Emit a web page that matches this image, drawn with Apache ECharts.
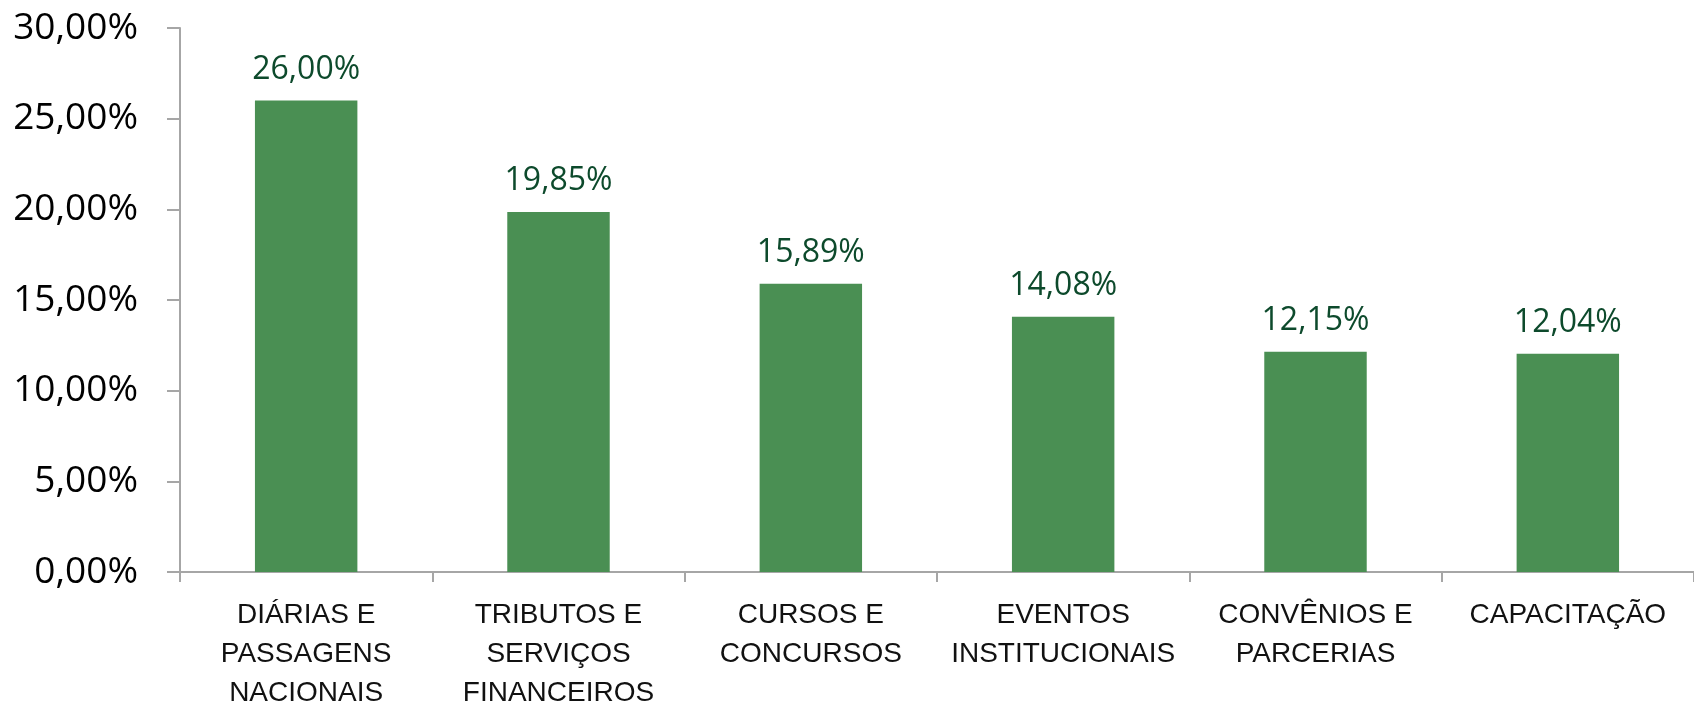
<!DOCTYPE html>
<html>
<head>
<meta charset="utf-8">
<script src="https://cdn.jsdelivr.net/npm/echarts@6/dist/echarts.min.js"></script>
<style>
	html, body { margin: 0; padding: 0; background: #fff; }
	#main { width: 1694px; height: 703px; }
</style>
</head>
<body>
<div id="main"></div>
<script>
	// categorias
	var categorias = [
		'DIÁRIAS E\nPASSAGENS\nNACIONAIS',
		'TRIBUTOS E\nSERVIÇOS\nFINANCEIROS',
		'CURSOS E\nCONCURSOS',
		'EVENTOS\nINSTITUCIONAIS',
		'CONVÊNIOS E\nPARCERIAS',
		'CAPACITAÇÃO'
	];
	// valores (%)
	var valores = [26.00, 19.85, 15.89, 14.08, 12.15, 12.04];
	// eixo y
	var yMin = 0;
	var yMax = 30;
	var yPasso = 5;

	function pct(v) {
		return v.toFixed(2).replace('.', ',') + '%';
	}

	var chart = echarts.init(document.getElementById('main'));
	var option = {
		animation: false,
		backgroundColor: '#ffffff',
		grid: {
			left: 180,
			right: 0,
			top: 28,
			bottom: 131,
			containLabel: false,
			outerBoundsMode: 'none'
		},
		xAxis: {
			type: 'category',
			data: categorias,
			axisLine: { lineStyle: { color: '#a6a6a6', width: 2 } },
			axisTick: { show: true, length: 10, lineStyle: { color: '#a6a6a6', width: 2 } },
			axisLabel: {
				interval: 0,
				margin: 24,
				color: '#111',
				fontFamily: 'Liberation Sans',
				fontSize: 28,
				lineHeight: 39,
				align: 'center'
			}
		},
		yAxis: {
			type: 'value',
			min: yMin,
			max: yMax,
			interval: yPasso,
			splitLine: { show: false },
			axisLine: { show: true, lineStyle: { color: '#a6a6a6', width: 2 } },
			axisTick: { show: true, length: 13, lineStyle: { color: '#a6a6a6', width: 2 } },
			axisLabel: {
				margin: 42,
				color: '#000',
				fontFamily: 'Open Sans',
				fontSize: 37,
				formatter: function(v) { return pct(v); }
			}
		},
		series: [{
			type: 'bar',
			data: valores,
			barWidth: '40.6%',
			itemStyle: { color: '#4a8f53' },
			label: {
				show: true,
				position: 'top',
				distance: 15,
				color: '#0d4a2c',
				fontFamily: 'Open Sans',
				fontSize: 32,
				formatter: function(p) { return pct(p.value); }
			}
		}]
	};
	chart.setOption(option);
</script>
</body>
</html>
